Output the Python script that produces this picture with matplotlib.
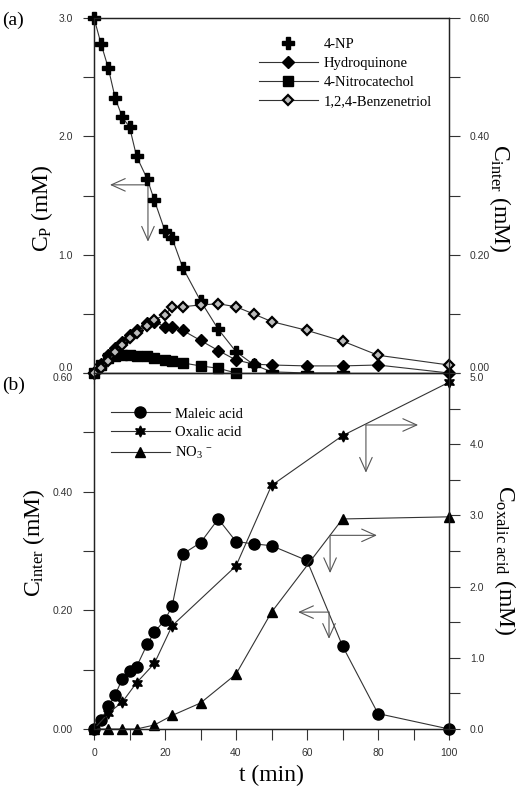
import numpy as np
import matplotlib
matplotlib.use('Agg')
import matplotlib.pyplot as plt
from matplotlib.lines import Line2D
from matplotlib.ticker import MultipleLocator, FormatStrFormatter

plt.rcParams['font.family'] = 'Liberation Sans'
plt.rcParams['mathtext.fontset'] = 'custom'
plt.rcParams['mathtext.rm'] = 'Liberation Serif'
plt.rcParams['mathtext.it'] = 'Liberation Serif:italic'

# ---- panel (a) data ----
t_np = [0, 2, 4, 6, 8, 10, 12, 15, 17, 20, 22, 25, 30, 35, 40, 45, 50, 60, 70]
c_np = [3.0, 2.78, 2.58, 2.32, 2.16, 2.08, 1.83, 1.64, 1.46, 1.20, 1.14, 0.89,
        0.61, 0.37, 0.18, 0.07, 0.01, 0.0, 0.0]

t_int = [0, 2, 4, 6, 8, 10, 12, 15, 17, 20, 22, 25, 30, 35, 40, 45, 50, 60, 70, 80, 100]
hydroquinone = [0, 0.015, 0.030, 0.042, 0.053, 0.064, 0.073, 0.084, 0.087, 0.078, 0.078,
                0.072, 0.055, 0.038, 0.022, 0.015, 0.0135, 0.012, 0.012, 0.0135, 0.0]
benzenetriol = [0, 0.008, 0.020, 0.035, 0.048, 0.060, 0.068, 0.080, 0.090, 0.098, 0.112,
                0.112, 0.115, 0.117, 0.112, 0.0997, 0.087, 0.072, 0.054, 0.030, 0.0135]

t_nc = [0, 2, 4, 6, 8, 10, 12, 15, 17, 20, 22, 25, 30, 35, 40]
nitrocatechol = [0, 0.0135, 0.025, 0.029, 0.030, 0.030, 0.029, 0.028, 0.025, 0.022,
                 0.021, 0.017, 0.012, 0.008, 0.0]

# ---- panel (b) data ----
t_mal = [0, 2, 4, 6, 8, 10, 12, 15, 17, 20, 22, 25, 30, 35, 40, 45, 50, 60, 70, 80, 100]
maleic = [0, 0.015, 0.038, 0.058, 0.085, 0.098, 0.105, 0.143, 0.163, 0.184, 0.207,
          0.295, 0.314, 0.354, 0.316, 0.312, 0.309, 0.284, 0.140, 0.026, 0.0]

t_ox = [0, 4, 8, 12, 17, 22, 40, 50, 70, 100]
oxalic = [0, 0.22, 0.38, 0.65, 0.92, 1.45, 2.29, 3.42, 4.12, 4.87]

t_no3 = [0, 4, 8, 12, 17, 22, 30, 40, 50, 70, 100]
no3 = [0, 0, 0, 0, 0.056, 0.19, 0.365, 0.77, 1.64, 2.95, 2.98]

W, H = 520, 792
fig = plt.figure(figsize=(W / 100, H / 100), dpi=100)
x0, x1 = 94 / W, 449 / W
ya_top, ymid, yb_bot = 1 - 18 / H, 1 - 373 / H, 1 - 729 / H
ax1 = fig.add_axes([x0, ymid, x1 - x0, ya_top - ymid])
ax2 = fig.add_axes([x0, yb_bot, x1 - x0, ymid - yb_bot])
ax1r = ax1.twinx()
ax2r = ax2.twinx()

lc = '#333333'
lw = 0.8

# panel (a)
ax1.plot(t_np, c_np, color=lc, lw=lw, marker='P', ms=9, mfc='k', mec='k', clip_on=False, zorder=5)
ax1r.plot(t_int, hydroquinone, color=lc, lw=lw, marker='D', ms=6, mfc='k', mec='k', clip_on=False)
ax1r.plot(t_nc, nitrocatechol, color=lc, lw=lw, marker='s', ms=7, mfc='k', mec='k', clip_on=False)
ax1r.plot(t_int, benzenetriol, color=lc, lw=lw, marker='D', ms=5.5, mfc='#bbbbbb', mec='k',
          mew=1.6, clip_on=False)

# panel (b)
ax2.plot(t_mal, maleic, color=lc, lw=lw, marker='o', ms=8, mfc='k', mec='k', clip_on=False)
ax2r.plot(t_ox, oxalic, color=lc, lw=lw, marker=(6, 1, 0), ms=8, mfc='k', mec='k', clip_on=False)
ax2r.plot(t_no3, no3, color=lc, lw=lw, marker='^', ms=7.5, mfc='k', mec='k', clip_on=False)

for ax in (ax1, ax2):
    ax.set_xlim(0, 100)
    ax.xaxis.set_major_locator(MultipleLocator(20))
    ax.xaxis.set_minor_locator(MultipleLocator(10))
ax1.tick_params(axis='x', which='both', labelbottom=False, bottom=True, top=False,
                direction='out', length=8, width=0.8, color=lc)
ax2.tick_params(axis='x', which='both', top=False, direction='out', length=8, width=0.8,
                color=lc, labelsize=7.5, labelcolor='#333333', pad=6)

ax1.set_ylim(0, 3.0)
ax1.yaxis.set_major_locator(MultipleLocator(1.0))
ax1.yaxis.set_minor_locator(MultipleLocator(0.5))
ax1.yaxis.set_major_formatter(FormatStrFormatter('%.1f'))
ax1r.set_ylim(0, 0.6)
ax1r.yaxis.set_major_locator(MultipleLocator(0.2))
ax1r.yaxis.set_minor_locator(MultipleLocator(0.1))
ax1r.yaxis.set_major_formatter(FormatStrFormatter('%.2f'))

ax2.set_ylim(0, 0.6)
ax2.yaxis.set_major_locator(MultipleLocator(0.2))
ax2.yaxis.set_minor_locator(MultipleLocator(0.1))
ax2.yaxis.set_major_formatter(FormatStrFormatter('%.2f'))
ax2r.set_ylim(0, 5.0)
ax2r.yaxis.set_major_locator(MultipleLocator(1.0))
ax2r.yaxis.set_minor_locator(MultipleLocator(0.5))
ax2r.yaxis.set_major_formatter(FormatStrFormatter('%.1f'))

for ax in (ax1, ax1r, ax2, ax2r):
    ax.tick_params(axis='y', which='both', direction='out', length=8, width=0.8, color=lc,
                   labelsize=7.5, labelcolor='#333333', pad=7)
    for s in ax.spines.values():
        s.set_linewidth(0.9)
        s.set_color('#222222')

# guide arrows
ap = dict(arrowstyle='->,head_length=1.0,head_width=0.45', lw=0.8, color='#555555',
          shrinkA=0, shrinkB=0)
def corner_arrow(ax, corner, x_end, y_end):
    ax.annotate('', xy=(x_end, corner[1]), xytext=corner, arrowprops=ap)
    ax.annotate('', xy=(corner[0], y_end), xytext=corner, arrowprops=ap)

corner_arrow(ax1, (15.2, 1.59), 4.5, 1.11)
corner_arrow(ax2r, (76.6, 4.27), 91.3, 3.6)
corner_arrow(ax2r, (66.5, 2.72), 79.7, 2.19)
corner_arrow(ax2, (66.2, 0.197), 57.5, 0.152)

# legends
serif = 'Liberation Serif'
h_a = [Line2D([], [], ls='none', marker='P', ms=9, color='k'),
       Line2D([], [], color=lc, lw=lw, marker='D', ms=6, mfc='k', mec='k'),
       Line2D([], [], color=lc, lw=lw, marker='s', ms=7, mfc='k', mec='k'),
       Line2D([], [], color=lc, lw=lw, marker='D', ms=5.5, mfc='#bbbbbb', mec='k', mew=1.6)]
leg = ax1.legend(h_a, ['4-NP', 'Hydroquinone', '4-Nitrocatechol', '1,2,4-Benzenetriol'],
                 loc='upper left', bbox_to_anchor=(252 / W, 1 - 31 / H),
                 bbox_transform=fig.transFigure, frameon=False, handlelength=4.0,
                 handletextpad=0.4, labelspacing=0.38, borderpad=0, prop={'family': serif, 'size': 10.5})

h_b = [Line2D([], [], color=lc, lw=lw, marker='o', ms=8, mfc='k', mec='k'),
       Line2D([], [], color=lc, lw=lw, marker=(6, 1, 0), ms=8, mfc='k', mec='k'),
       Line2D([], [], color=lc, lw=lw, marker='^', ms=7.5, mfc='k', mec='k')]
ax2.legend(h_b, ['Maleic acid', 'Oxalic acid', 'NO$_{3}$ $^{-}$'],
           loc='upper left', bbox_to_anchor=(104 / W, 1 - 400 / H),
           bbox_transform=fig.transFigure, frameon=False, handlelength=4.0,
           handletextpad=0.4, labelspacing=0.38, borderpad=0, prop={'family': serif, 'size': 10.5})

# axis labels and panel letters
fs = 17
fig.text(42 / W, 1 - 208 / H, 'C$_{\\rm P}$ (mM)', rotation=90, ha='center', va='center',
         family=serif, fontsize=fs)
fig.text(500 / W, 1 - 198 / H, 'C$_{\\rm inter}$ (mM)', rotation=270, ha='center', va='center',
         family=serif, fontsize=fs)
fig.text(34 / W, 1 - 543 / H, 'C$_{\\rm inter}$ (mM)', rotation=90, ha='center', va='center',
         family=serif, fontsize=fs)
fig.text(505 / W, 1 - 560 / H, 'C$_{\\rm oxalic\\ acid}$ (mM)', rotation=270, ha='center',
         va='center', family=serif, fontsize=fs)
fig.text(271 / W, 1 - 775 / H, 't (min)', ha='center', va='center', family=serif, fontsize=fs)
fig.text(2 / W, 1 - 20 / H, '(a)', ha='left', va='center', family=serif, fontsize=14)
fig.text(2 / W, 1 - 385 / H, '(b)', ha='left', va='center', family=serif, fontsize=14)

# split the tick labels that meet at the shared border
fig.canvas.draw()
for tk in ax1.yaxis.get_major_ticks():
    if abs(tk.get_loc()) < 1e-9:
        tk.label1.set_va('bottom')
for tk in ax1r.yaxis.get_major_ticks():
    if abs(tk.get_loc()) < 1e-9:
        tk.label2.set_va('bottom')
for tk in ax2.yaxis.get_major_ticks():
    if abs(tk.get_loc() - 0.6) < 1e-9:
        tk.label1.set_va('top')
for tk in ax2r.yaxis.get_major_ticks():
    if abs(tk.get_loc() - 5.0) < 1e-9:
        tk.label2.set_va('top')

fig.savefig('out.png', dpi=100)
